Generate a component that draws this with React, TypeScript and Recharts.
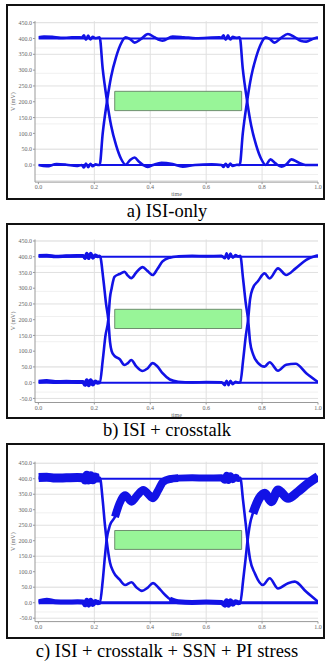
import { LineChart, Line, XAxis, YAxis, CartesianGrid, ReferenceArea } from 'recharts';

type Pt = { t: number; v: number };
const pts = (rows: number[][]): Pt[] => rows.map(([t, v]) => ({ t, v }));

// ---- shared ----
const xTicks = [0, 0.2, 0.4, 0.6, 0.8, 1.0];
const yTicksA = [0, 50, 100, 150, 200, 250, 300, 350, 400, 450];
const yTicksBC = [-50, 0, 50, 100, 150, 200, 250, 300, 350, 400, 450];
const minorGrid = [-50, -40, -30, -20, -10, 0, 10, 20, 30, 40, 50, 60, 70, 80, 90, 100, 110, 120, 130, 140, 150, 160, 170, 180, 190, 200, 210, 220, 230, 240, 250, 260, 270, 280, 290, 300, 310, 320, 330, 340, 350, 360, 370, 380, 390, 400, 410, 420, 430, 440, 450];
const eyeMask = { t1: 0.273, t2: 0.727, v1: 172, v2: 233 };
const flatHigh = pts([[0, 400], [1, 400]]);
const flatLow = pts([[0, 0], [1, 0]]);

// ---- a) ISI-only ----
const aTraceA = pts([
  [0, 404], [0.02, 406], [0.05, 405], [0.08, 402], [0.11, 403], [0.14, 404], [0.155, 403],
  [0.163, 410], [0.17, 396], [0.178, 409], [0.186, 397], [0.194, 405], [0.205, 401], [0.215, 403],
  [0.219, 404], [0.23, 304], [0.246, 199], [0.26, 125], [0.278, 62], [0.296, 19], [0.312, 1],
  [0.328, 16], [0.344, 24], [0.36, 10], [0.375, 0], [0.39, -6], [0.41, 0], [0.44, 7], [0.48, 3],
  [0.516, -5], [0.56, 0], [0.62, 2], [0.655, 0], [0.662, -6], [0.67, 4], [0.678, -6], [0.686, 5],
  [0.695, -3], [0.71, 1], [0.72, 0], [0.731, 100], [0.747, 205], [0.761, 279], [0.779, 342],
  [0.797, 385], [0.813, 404], [0.828, 398], [0.845, 387], [0.868, 402], [0.892, 414], [0.915, 405],
  [0.94, 392], [0.958, 390], [0.98, 398], [1.0, 404],
]);
const aTraceB = pts([
  [0, 0], [0.03, -4], [0.065, 3], [0.1, 1], [0.137, -3], [0.155, 0], [0.163, -8], [0.17, 5],
  [0.178, -7], [0.186, 4], [0.194, -4], [0.205, 2], [0.215, 0], [0.219, 0], [0.23, 100],
  [0.246, 205], [0.26, 279], [0.278, 342], [0.296, 385], [0.312, 404], [0.328, 398], [0.344, 387],
  [0.366, 398], [0.392, 414], [0.415, 404], [0.434, 395], [0.444, 393], [0.48, 406], [0.52, 404],
  [0.563, 401], [0.648, 404], [0.655, 403], [0.662, 410], [0.67, 396], [0.678, 410], [0.686, 397],
  [0.695, 405], [0.71, 402], [0.72, 404], [0.731, 304], [0.747, 199], [0.761, 125], [0.779, 62],
  [0.797, 19], [0.813, 0], [0.83, 18], [0.848, 5], [0.87, -5], [0.887, 2], [0.905, 18],
  [0.93, 8], [0.955, 0], [1.0, 0],
]);

// ---- b) ISI + crosstalk ----
const bTraceA = pts([
  [0, 403], [0.03, 404], [0.06, 401], [0.1, 402], [0.14, 403], [0.16, 403], [0.167, 395],
  [0.173, 410], [0.18, 395], [0.187, 410], [0.195, 396], [0.203, 405], [0.212, 401], [0.22, 402],
  [0.232, 330], [0.242, 250], [0.25, 200], [0.256, 130], [0.262, 100], [0.272, 85], [0.29, 75],
  [0.308, 56], [0.32, 62], [0.332, 72], [0.35, 52], [0.373, 37], [0.39, 45], [0.409, 62],
  [0.425, 52], [0.444, 30], [0.47, 10], [0.5, 3], [0.55, 1], [0.6, 2], [0.655, 1], [0.667, -8],
  [0.673, 6], [0.68, -8], [0.687, 6], [0.695, -5], [0.705, 3], [0.715, 0], [0.722, 1],
  [0.732, 70], [0.742, 150], [0.75, 200], [0.757, 265], [0.767, 300], [0.785, 322], [0.809, 347],
  [0.827, 331], [0.857, 363], [0.886, 342], [0.92, 363], [0.958, 390], [1.0, 405],
]);
const bTraceB = pts([
  [0, 3], [0.03, 5], [0.06, 2], [0.1, 3], [0.14, 2], [0.16, 2], [0.167, -7], [0.173, 8],
  [0.18, -8], [0.187, 8], [0.195, -6], [0.203, 4], [0.212, 0], [0.22, 2], [0.23, 70],
  [0.24, 150], [0.25, 200], [0.256, 270], [0.262, 300], [0.272, 336], [0.29, 345], [0.308, 352],
  [0.32, 340], [0.332, 332], [0.35, 350], [0.373, 367], [0.39, 355], [0.409, 342], [0.425, 360],
  [0.444, 385], [0.47, 397], [0.5, 401], [0.55, 403], [0.6, 402], [0.655, 403], [0.667, 395],
  [0.673, 411], [0.68, 394], [0.687, 410], [0.695, 397], [0.705, 405], [0.715, 401], [0.722, 403],
  [0.732, 330], [0.742, 250], [0.75, 200], [0.757, 130], [0.767, 92], [0.785, 63], [0.809, 51],
  [0.827, 65], [0.857, 38], [0.886, 57], [0.92, 60], [0.958, 30], [1.0, 2],
]);

// ---- c) ISI + crosstalk + SSN + PI stress ----
const cTraceA = pts([
  [0, 404], [0.03, 405], [0.06, 402], [0.1, 403], [0.14, 404], [0.16, 403], [0.167, 396],
  [0.173, 411], [0.18, 396], [0.187, 410], [0.195, 397], [0.203, 406], [0.212, 402], [0.22, 403],
  [0.23, 330], [0.238, 250], [0.244, 202], [0.256, 130], [0.268, 100], [0.29, 75], [0.31, 57],
  [0.333, 66], [0.35, 50], [0.37, 38], [0.39, 48], [0.41, 63], [0.428, 50], [0.446, 32],
  [0.47, 12], [0.5, 3], [0.55, 1], [0.6, 2], [0.655, 1], [0.667, -8], [0.673, 6], [0.68, -8],
  [0.687, 6], [0.695, -5], [0.705, 3], [0.715, 0], [0.722, 1], [0.732, 70], [0.742, 150],
  [0.748, 200], [0.757, 255], [0.767, 288], [0.79, 337], [0.81, 353], [0.833, 326], [0.857, 364],
  [0.893, 337], [0.928, 358], [0.964, 385], [1.0, 407],
]);
const cTraceB = pts([
  [0, 3], [0.03, 8], [0.06, 3], [0.1, 2], [0.14, 3], [0.16, 2], [0.167, -7], [0.173, 8],
  [0.18, -8], [0.187, 8], [0.195, -6], [0.203, 4], [0.212, 0], [0.22, 2], [0.23, 70],
  [0.238, 150], [0.244, 202], [0.256, 250], [0.274, 277], [0.29, 320], [0.31, 347], [0.333, 326],
  [0.355, 348], [0.375, 364], [0.393, 350], [0.41, 337], [0.428, 362], [0.446, 390], [0.47, 399],
  [0.5, 402], [0.55, 403], [0.6, 402], [0.655, 403], [0.667, 395], [0.673, 411], [0.68, 394],
  [0.687, 410], [0.695, 397], [0.705, 405], [0.715, 401], [0.722, 403], [0.732, 330],
  [0.742, 250], [0.748, 200], [0.757, 140], [0.774, 95], [0.803, 57], [0.827, 79], [0.857, 46],
  [0.893, 63], [0.917, 68], [0.958, 35], [1.0, 3],
]);

const BLUE = '#1212e6';
const seg = (arr: Pt[], t0: number, t1: number) => arr.filter((p) => p.t >= t0 && p.t <= t1);

type Stroke = { data: Pt[]; w: number };

type PanelProps = {
  boxTop: number;
  plotTop: number;
  plotBottom: number;
  yMin: number;
  yTicks: number[];
  strokes: Stroke[];
  caption: string;
  captionTop: number;
};

const BOX_H = 196;
const FONT = 'Liberation Serif, serif';

function Panel({ boxTop, plotTop, plotBottom, yMin, yTicks, strokes, caption, captionTop }: PanelProps) {
  const margin = {
    top: plotTop - boxTop,
    right: 8,
    left: 6,
    bottom: boxTop + BOX_H - plotBottom - 14,
  };
  return (
    <>
      <div
        style={{
          position: 'absolute',
          left: 6,
          top: boxTop,
          width: 319,
          height: BOX_H,
          boxSizing: 'border-box',
          border: '2px solid #111',
          background: '#fff',
        }}
      />
      <div style={{ position: 'absolute', left: 0, top: boxTop }}>
        <LineChart width={326} height={BOX_H} margin={margin}>
          <CartesianGrid stroke="#f0f0f0" vertical={false} horizontalValues={minorGrid} />
          <CartesianGrid stroke="#e0e0e0" horizontalValues={yTicksBC} verticalValues={[0.2, 0.4, 0.6, 0.8]} />
          <XAxis
            type="number"
            dataKey="t"
            domain={[0, 1]}
            ticks={xTicks}
            tickFormatter={(v: number) => v.toFixed(1)}
            padding={{ left: 3.4, right: 0 }}
            height={14}
            tickSize={2}
            tickMargin={1}
            tick={{ fontSize: 6, fill: '#666', fontFamily: FONT }}
            axisLine={{ stroke: '#999' }}
            tickLine={{ stroke: '#999' }}
            label={{ value: 'time', position: 'insideBottom', offset: 0, style: { fontSize: 6, fill: '#666', fontFamily: FONT } }}
            allowDataOverflow
          />
          <YAxis
            type="number"
            domain={[yMin, 455]}
            ticks={yTicks}
            tickFormatter={(v: number) => v.toFixed(1)}
            width={29}
            tickSize={2}
            tickMargin={1}
            tick={{ fontSize: 6, fill: '#666', fontFamily: FONT }}
            axisLine={{ stroke: '#999' }}
            tickLine={{ stroke: '#999' }}
            label={{
              value: 'V (mV)',
              angle: -90,
              position: 'insideLeft',
              offset: 7,
              style: { fontSize: 6, fill: '#666', fontFamily: FONT, textAnchor: 'middle' },
            }}
            allowDataOverflow
          />
          <ReferenceArea
            x1={eyeMask.t1}
            x2={eyeMask.t2}
            y1={eyeMask.v1}
            y2={eyeMask.v2}
            fill="#98f598"
            fillOpacity={1}
            stroke="#6f8f6f"
            strokeWidth={1}
          />
          {strokes.map((s, i) => (
            <Line
              key={i}
              data={s.data}
              dataKey="v"
              type="monotone"
              stroke={BLUE}
              strokeWidth={s.w}
              dot={false}
              activeDot={false}
              isAnimationActive={false}
            />
          ))}
        </LineChart>
      </div>
      <div
        style={{
          position: 'absolute',
          left: 4,
          width: 326,
          top: captionTop,
          textAlign: 'center',
          fontFamily: FONT,
          fontSize: 18.5,
          fontWeight: 400,
          lineHeight: '20px',
          color: '#000',
          whiteSpace: 'nowrap',
        }}
      >
        {caption}
      </div>
    </>
  );
}

export default function App() {
  return (
    <div style={{ position: 'absolute', left: 0, top: 0, width: 326, height: 665, background: '#fff', overflow: 'hidden' }}>
      <Panel
        boxTop={4}
        plotTop={21.1}
        plotBottom={182.1}
        yMin={-54}
        yTicks={yTicksA}
        caption="a) ISI-only"
        captionTop={201.3}
        strokes={[
          { data: flatHigh, w: 1.8 },
          { data: flatLow, w: 1.8 },
          { data: aTraceA, w: 2.6 },
          { data: aTraceB, w: 2.6 },
        ]}
      />
      <Panel
        boxTop={223}
        plotTop={239.4}
        plotBottom={402.5}
        yMin={-63}
        yTicks={yTicksBC}
        caption="b) ISI + crosstalk"
        captionTop={420.3}
        strokes={[
          { data: flatHigh, w: 2 },
          { data: flatLow, w: 2 },
          { data: seg(bTraceA, 0, 0.22), w: 3.5 },
          { data: seg(bTraceB, 0, 0.22), w: 4 },
          { data: bTraceA, w: 2.6 },
          { data: bTraceB, w: 2.6 },
        ]}
      />
      <Panel
        boxTop={443}
        plotTop={461.7}
        plotBottom={621.6}
        yMin={-61}
        yTicks={yTicksBC}
        caption="c) ISI + crosstalk + SSN + PI stress"
        captionTop={640.8}
        strokes={[
          { data: flatHigh, w: 2 },
          { data: flatLow, w: 3 },
          { data: cTraceA, w: 2.6 },
          { data: cTraceB, w: 2.6 },
          { data: seg(cTraceA, 0, 0.22), w: 9 },
          { data: seg(cTraceB, 0, 0.22), w: 5 },
          { data: seg(cTraceB, 0.27, 0.5), w: 8 },
          { data: seg(cTraceB, 0.47, 0.722), w: 7 },
          { data: seg(cTraceA, 0.47, 0.722), w: 5 },
          { data: seg(cTraceA, 0.767, 1), w: 9 },
        ]}
      />
    </div>
  );
}
